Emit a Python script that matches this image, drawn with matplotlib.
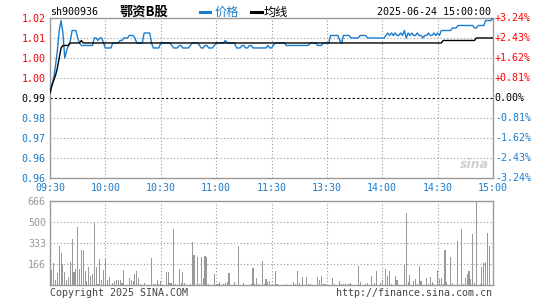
import numpy as np
import matplotlib.pyplot as plt
from matplotlib.lines import Line2D

code = 'sh900936'
name = '鄂资B股'
stamp = '2025-06-24 15:00:00'
prev_close = 0.988

pct_steps = [3.24, 2.43, 1.62, 0.81, 0.0, -0.81, -1.62, -2.43, -3.24]
price_labels = ['1.02', '1.01', '1.00', '1.00', '0.99', '0.98', '0.97', '0.96', '0.96']
pct_labels = ['+3.24%', '+2.43%', '+1.62%', '+0.81%', '0.00%',
              '-0.81%', '-1.62%', '-2.43%', '-3.24%']

time_ticks = [0, 30, 60, 90, 120, 150, 180, 210, 240]
time_labels = ['09:30', '10:00', '10:30', '11:00', '11:30',
               '13:30', '14:00', '14:30', '15:00']

# minute prices as (price, minutes held)
price_runs = [
    (0.990, 1), (0.993, 1), (0.996, 1), (1.001, 1), (1.007, 1), (1.015, 1),
    (1.019, 1), (1.014, 1), (1.004, 1), (1.007, 1), (1.009, 1), (1.011, 1),
    (1.015, 3), (1.012, 1), (1.010, 1), (1.009, 7), (1.012, 2), (1.011, 1),
    (1.012, 2), (1.010, 1), (1.008, 4), (1.010, 4), (1.011, 2), (1.012, 3),
    (1.013, 3), (1.012, 1), (1.010, 4), (1.014, 4), (1.010, 1), (1.008, 4),
    (1.010, 6), (1.009, 1), (1.008, 3), (1.009, 2), (1.008, 4), (1.009, 1),
    (1.010, 4),
    (1.009, 1), (1.008, 2), (1.009, 2), (1.008, 3), (1.009, 1), (1.010, 5),
    (1.011, 1), (1.010, 5), (1.008, 3), (1.009, 2), (1.008, 2), (1.009, 2),
    (1.008, 8), (1.009, 1), (1.008, 2), (1.009, 1), (1.010, 6), (1.009, 13),
    (1.010, 4), (1.009, 3), (1.010, 4), (1.013, 5), (1.011, 1), (1.010, 1),
    (1.013, 4), (1.012, 5), (1.013, 4), (1.012, 10),
    (1.013, 1), (1.014, 1), (1.013, 1), (1.014, 1), (1.013, 1), (1.014, 1),
    (1.013, 2), (1.014, 1), (1.013, 1), (1.015, 1), (1.012, 1), (1.014, 1),
    (1.013, 1), (1.014, 1), (1.013, 2), (1.014, 1), (1.013, 2), (1.012, 1),
    (1.013, 2), (1.014, 1), (1.013, 2), (1.014, 1), (1.013, 1), (1.014, 1),
    (1.013, 1),
    (1.015, 6), (1.016, 3), (1.017, 9), (1.016, 2), (1.017, 4), (1.019, 4),
    (1.020, 1),
]

avg_runs = [
    (0.990, 1), (0.993, 1), (0.995, 1), (0.997, 1), (1.000, 1), (1.004, 1),
    (1.008, 1), (1.009, 4), (1.010, 6), (1.011, 1), (1.010, 195),
    (1.011, 18), (1.012, 10),
]

vol_minute = [
    0, 1, 2, 3, 4, 5, 6, 7, 8, 9, 10, 11, 12, 13, 14, 15, 16, 17, 18, 19,
    20, 21, 22, 23, 24, 25, 26, 27, 28, 29, 30, 31, 32, 34, 35, 36, 37, 38,
    39, 40, 43, 44, 45, 46, 47, 48, 49, 51, 55, 56, 57, 58, 59, 60, 63, 64,
    65, 66, 67, 68, 70, 71, 72, 73, 76, 77, 78, 80, 81, 82, 83, 84, 85, 86,
    89, 90, 91, 92, 94, 95, 96, 97, 100, 102, 105, 109, 110, 111, 112, 113,
    115, 116, 117, 118, 119, 122, 123, 128, 132, 133, 134, 135, 137, 139,
    140, 141, 145, 146, 147, 148, 149, 153, 154, 157, 158, 159, 160, 162,
    163, 167, 168, 171, 172, 174, 176, 177, 179, 180, 182, 183, 184, 185,
    187, 188, 192, 193, 194, 195, 197, 198, 199, 200, 201, 204, 205, 206,
    207, 208, 210, 211, 212, 213, 214, 215, 217, 218, 221, 223, 224, 225,
    226, 227, 228, 229, 230, 231, 233, 234, 235, 236, 237, 238,
]
vol_value = [
    90, 124, 177, 45, 98, 315, 256, 169, 106, 45, 66, 185, 370, 106, 130, 462,
    130, 283, 278, 116, 37, 145, 74, 90, 502, 148, 10, 211, 42, 124, 211, 45,
    66, 18, 32, 42, 45, 45, 18, 124, 58, 45, 32, 90, 116, 58, 10, 18, 219, 10,
    10, 45, 10, 32, 108, 108, 18, 18, 449, 10, 132, 18, 108, 18, 10, 346, 243,
    225, 10, 225, 58, 233, 225, 10, 90, 10, 10, 26, 10, 18, 26, 98, 26, 312,
    18, 10, 137, 10, 58, 10, 193, 10, 50, 26, 32, 114, 10, 10, 26, 10, 114,
    18, 66, 66, 10, 10, 66, 42, 74, 10, 10, 58, 10, 34, 10, 10, 10, 10, 18,
    153, 26, 10, 18, 74, 18, 114, 18, 42, 130, 74, 114, 10, 74, 42, 167, 576,
    26, 82, 34, 50, 10, 153, 34, 58, 10, 66, 26, 10, 122, 50, 58, 10, 280, 26,
    225, 18, 352, 447, 10, 58, 90, 114, 50, 407, 18, 666, 10, 145, 177, 185,
    415, 312,
]
vol_ticks = [166, 333, 500, 666]

price = np.repeat([p for p, n in price_runs], [n for p, n in price_runs])
avg = np.repeat([p for p, n in avg_runs], [n for p, n in avg_runs])
minutes = np.arange(len(price))

BLUE = '#1a7ccc'
RED = '#ff0000'
GRID = '#999999'
FRAME = '#999999'
MONO = 'DejaVu Sans Mono'
CJK = ['Noto Sans CJK SC', 'DejaVu Sans']
FS = 7.2

W, H = 545, 300
fig = plt.figure(figsize=(W / 100, H / 100), dpi=100)


def fx(px):
    return px / W


def fy(py):
    return 1 - py / H


ax = fig.add_axes([fx(50), fy(177.7), 443 / W, 159.7 / H])
axv = fig.add_axes([fx(50), fy(285.3), 443 / W, 84 / H])

levels = prev_close * (1 + np.array(pct_steps) / 100)
ax.set_ylim(levels[-1], levels[0])
ax.set_xlim(0, 240)

dot = (0, (1, 2))
for lv, pc in zip(levels[1:-1], pct_steps[1:-1]):
    if pc == 0:
        ax.axhline(lv, color='black', lw=0.8, ls=(0, (2, 2)), zorder=1)
    else:
        ax.axhline(lv, color=GRID, lw=0.8, ls=dot, zorder=1)
for t in time_ticks[1:-1]:
    ax.axvline(t, color=GRID, lw=0.8, ls=dot, zorder=1)
    axv.axvline(t, color=GRID, lw=0.8, ls=dot, zorder=1)

ax.plot(minutes, price, color=BLUE, lw=1.0, zorder=3)
ax.plot(minutes, avg, color='black', lw=1.0, zorder=4)

ax.set_yticks(levels, labels=price_labels)
ax.tick_params(axis='y', length=0, pad=3)
for lab, pc in zip(ax.get_yticklabels(), pct_steps):
    lab.set_fontfamily(MONO)
    lab.set_fontsize(FS)
    lab.set_color(RED if pc > 0 else ('black' if pc == 0 else BLUE))

for lv, pc, txt in zip(levels, pct_steps, pct_labels):
    ax.text(1.004, lv, txt, transform=ax.get_yaxis_transform(),
            ha='left', va='center', family=MONO, fontsize=FS,
            color=RED if pc > 0 else ('black' if pc == 0 else BLUE))

ax.set_xticks(time_ticks, labels=time_labels)
ax.tick_params(axis='x', length=0, pad=4)
for lab in ax.get_xticklabels():
    lab.set_fontfamily(MONO)
    lab.set_fontsize(FS)
    lab.set_color(BLUE)

# volume panel
axv.set_xlim(0, 240)
axv.set_ylim(0, 666)
for v in vol_ticks[:-1]:
    axv.axhline(v, color=GRID, lw=0.8, ls=dot, zorder=1)
axv.bar(vol_minute, vol_value, width=0.6, color='#999999', lw=0, zorder=3)
axv.set_yticks(vol_ticks, labels=[str(v) for v in vol_ticks])
axv.set_xticks([])
axv.tick_params(axis='y', length=0, pad=3)
for lab in axv.get_yticklabels():
    lab.set_fontfamily(MONO)
    lab.set_fontsize(FS)
    lab.set_color('#999999')

for a in (ax, axv):
    for s in a.spines.values():
        s.set_color(FRAME)
        s.set_linewidth(1.0)

# header
fig.text(fx(50), fy(12), code, family=MONO, fontsize=FS, va='center', ha='left')
fig.text(fx(144), fy(12), name, family=CJK, fontsize=9.5, fontweight='bold',
         va='center', ha='center')
fig.add_artist(Line2D([fx(200), fx(210)], [fy(12), fy(12)], color=BLUE, lw=2.2))
fig.text(fx(215), fy(12), '价格', family=CJK, fontsize=8.8, color=BLUE,
         va='center', ha='left')
fig.add_artist(Line2D([fx(251), fx(262)], [fy(12), fy(12)], color='black', lw=2.2))
fig.text(fx(264), fy(12), '均线', family=CJK, fontsize=8.8, color='black',
         va='center', ha='left')
fig.text(fx(491), fy(12), stamp, family=MONO, fontsize=FS, va='center', ha='right')

# footer
fig.text(fx(50), fy(293), 'Copyright 2025 SINA.COM', family=MONO, fontsize=FS,
         color='#444444', va='center', ha='left')
fig.text(fx(492), fy(293), 'http://finance.sina.com.cn', family=MONO, fontsize=FS,
         color='#444444', va='center', ha='right')

# watermark
fig.text(fx(474), fy(164), 'sina', fontsize=9, fontweight='bold', style='italic',
         color='#cfcfcf', va='center', ha='center')

fig.savefig('out.png', dpi=100)
